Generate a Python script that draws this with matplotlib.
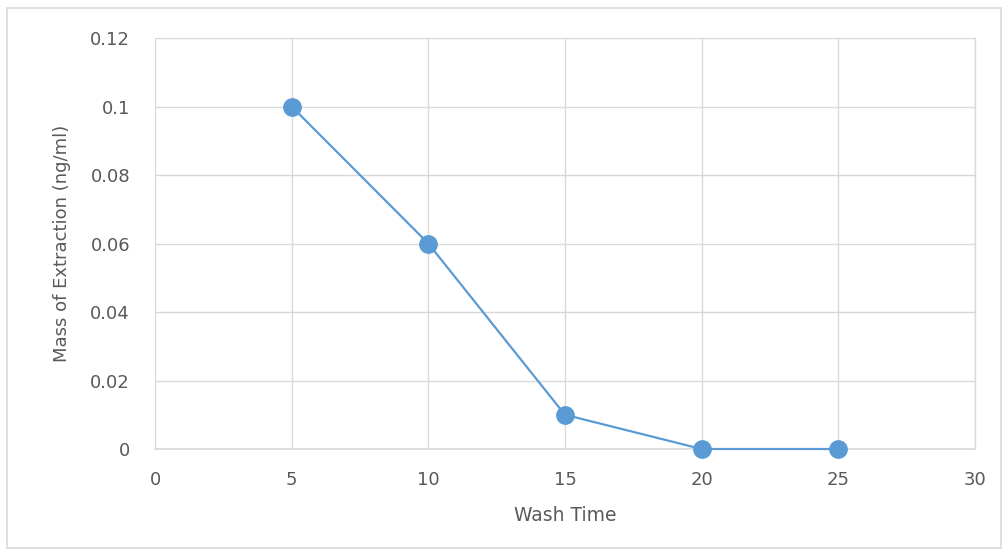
import matplotlib.pyplot as plt
from matplotlib.patches import Rectangle

plt.rcParams['font.family'] = ['DejaVu Sans']

# data
wash_time = [5, 10, 15, 20, 25]
mass = [0.10, 0.06, 0.01, 0.0, 0.0]
x_ticks = [0, 5, 10, 15, 20, 25, 30]
y_ticks = [0, 0.02, 0.04, 0.06, 0.08, 0.1, 0.12]
y_tick_labels = ['0', '0.02', '0.04', '0.06', '0.08', '0.1', '0.12']

blue = '#5B9BD5'
grey_text = '#595959'
grid_col = '#D9D9D9'

fig = plt.figure(figsize=(10.04, 5.51), dpi=100)
ax = fig.add_axes([0.1544, 0.1851, 0.8166, 0.7459])

ax.plot(wash_time, mass, color=blue, lw=1.6, marker='o', markersize=12.5,
        markerfacecolor=blue, markeredgecolor=blue, zorder=3, clip_on=False)

ax.set_xlim(0, 30)
ax.set_ylim(0, 0.12)
ax.set_xticks(x_ticks)
ax.set_yticks(y_ticks)
ax.set_yticklabels(y_tick_labels)
ax.grid(True, color=grid_col, lw=1)
ax.set_axisbelow(True)
for side in ['top', 'left']:
    ax.spines[side].set_visible(False)
ax.spines['right'].set_color(grid_col)
ax.spines['right'].set_linewidth(1)
ax.spines['bottom'].set_color(grid_col)
ax.spines['bottom'].set_linewidth(1.2)
ax.tick_params(length=0, labelsize=13, colors=grey_text)
ax.tick_params(axis='x', pad=16)
ax.tick_params(axis='y', pad=18)

ax.set_xlabel('Wash Time', fontsize=13.5, color=grey_text, labelpad=12)
ax.set_ylabel('Mass of Extraction (ng/ml)', fontsize=13, color=grey_text, labelpad=14)

# light border around the chart area
fig.patches.append(Rectangle((0.007, 0.005), 0.99, 0.98, transform=fig.transFigure,
                             fill=False, edgecolor='#D9D9D9', lw=1.2))

fig.savefig('out.png', dpi=100)
